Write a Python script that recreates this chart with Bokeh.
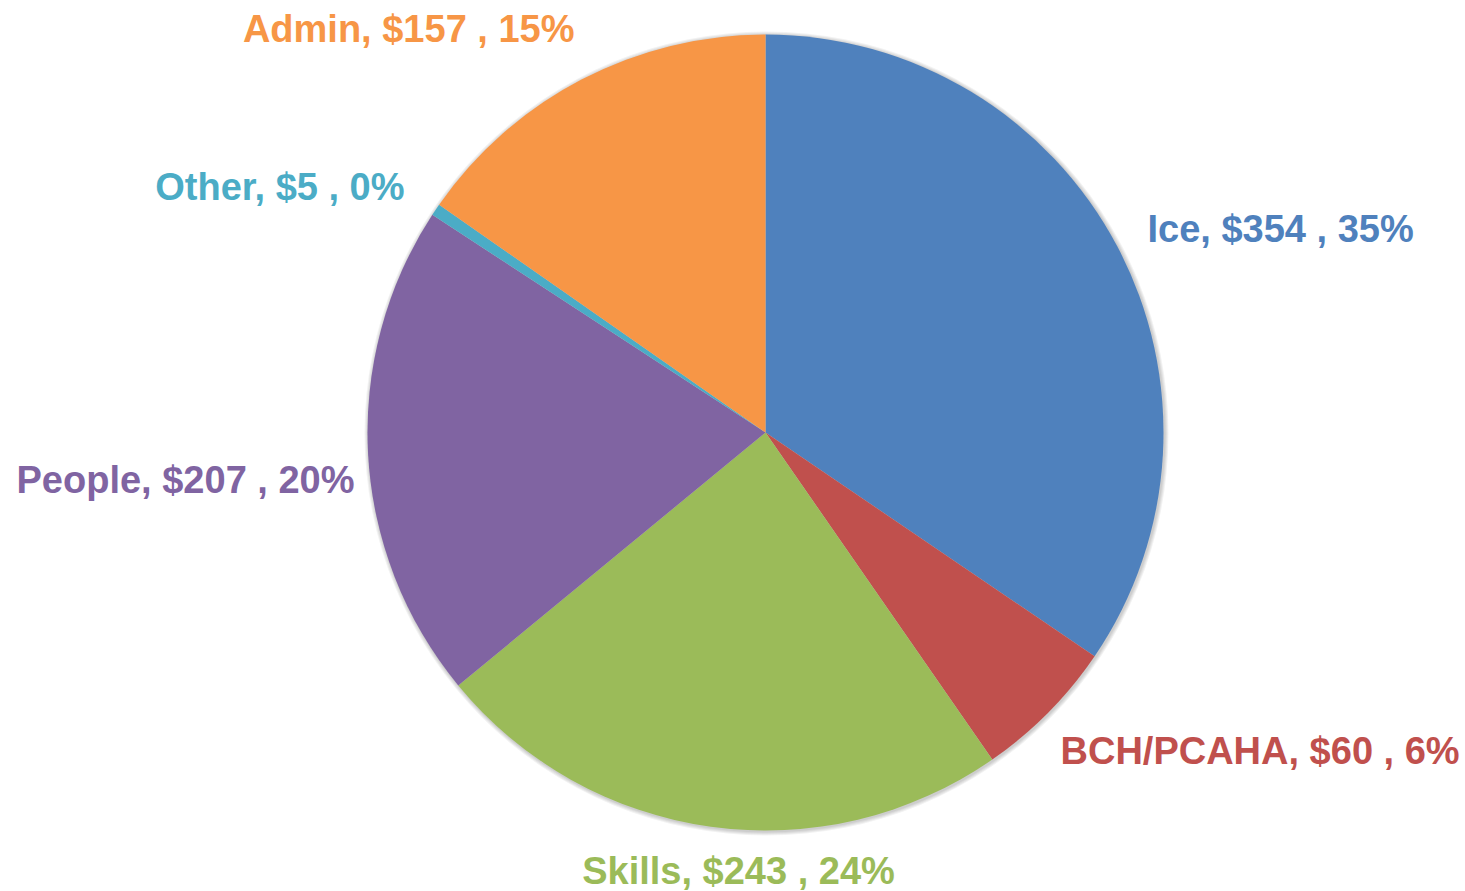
import math
from bokeh.plotting import figure
from bokeh.models import Range1d, ColumnDataSource
from bokeh.core.properties import value
from bokeh.embed import file_html
from bokeh.resources import INLINE

categories = ["Ice", "BCH/PCAHA", "Skills", "People", "Other", "Admin"]
amounts = [354, 60, 243, 207, 5, 157]
colors = ["#4F81BD", "#C0504D", "#9BBB59", "#8064A2", "#4BACC6", "#F79646"]

# layout (pixel coordinates, y measured from top) for labels
label_pos = [(1147, 228, "left"), (1060, 750, "left"), (738, 870, "center"),
             (354, 479, "right"), (404, 186, "right"), (574, 28, "right")]

W, H = 1465, 891
cx, cy, R = 765, H - 432, 398

total = sum(amounts)
starts, ends = [], []
cum = 0
for a in amounts:
    starts.append(math.pi / 2 - 2 * math.pi * cum / total)
    cum += a
    ends.append(math.pi / 2 - 2 * math.pi * cum / total)

p = figure(width=W, height=H, output_backend="svg", toolbar_location=None,
           x_range=Range1d(0, W), y_range=Range1d(0, H), min_border=0)
p.axis.visible = False
p.grid.visible = False
p.outline_line_color = None
p.background_fill_color = "white"

# soft shadow
for i, a in enumerate([0.05, 0.05, 0.05, 0.05]):
    p.circle(x=[cx + 1], y=[cy - 1], radius=R + 4 - i, fill_color="black",
             fill_alpha=a, line_color=None)

src = ColumnDataSource(dict(start=starts, end=ends, color=colors))
p.wedge(x=cx, y=cy, radius=R, start_angle="start", end_angle="end",
        direction="clock", fill_color="color", line_color=None, source=src)

for cat, amt, col, (lx, ly, al) in zip(categories, amounts, colors, label_pos):
    txt = f"{cat}, ${amt} , {round(100 * amt / total)}%"
    p.text(x=[lx], y=[H - ly], text=[txt], text_color=col,
           text_font=value("Liberation Sans"), text_font_style="bold",
           text_font_size="38px", text_align=al, text_baseline="middle")

open("out.html", "w").write(file_html(p, INLINE))
